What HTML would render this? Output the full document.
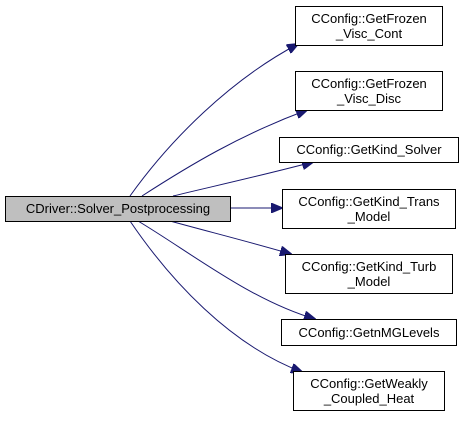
<!DOCTYPE html>
<html><head><style>body{margin:0;background:#fff}</style></head><body>
<svg width="464" height="417" xmlns="http://www.w3.org/2000/svg" font-family="'Liberation Sans',sans-serif" font-size="13">
<defs><marker id="a" markerWidth="12" markerHeight="10" refX="11" refY="5" orient="auto" markerUnits="userSpaceOnUse"><path d="M0,0 L12,5 L0,10 z" fill="#191970" stroke="#191970"/></marker></defs>
<g fill="none" stroke="#191970" stroke-width="1">
<path d="M130,196 C170,140 230,80 298,44" marker-end="url(#a)"/>
<path d="M142,196 C190,165 240,135 307,110" marker-end="url(#a)"/>
<path d="M173,196 C210,187 260,176 313,162" marker-end="url(#a)"/>
<path d="M231,208 L282,208" marker-end="url(#a)"/>
<path d="M170,221 C210,232 250,242 291,254" marker-end="url(#a)"/>
<path d="M138,221 C190,252 250,300 315,319" marker-end="url(#a)"/>
<path d="M130,221 C170,280 230,345 302,372" marker-end="url(#a)"/>
</g>
<g stroke="#000" stroke-width="1">
<rect x="5.5" y="196.5" width="225" height="25" fill="#bfbfbf"/>
<rect x="295.5" y="6.5" width="147" height="39" fill="#fff"/>
<rect x="295.5" y="71.5" width="147" height="39" fill="#fff"/>
<rect x="279.5" y="137.5" width="179" height="25" fill="#fff"/>
<rect x="282.5" y="189.5" width="173" height="39" fill="#fff"/>
<rect x="285.5" y="254.5" width="167" height="39" fill="#fff"/>
<rect x="281.5" y="319.5" width="175" height="26" fill="#fff"/>
<rect x="293.5" y="371.5" width="151" height="39" fill="#fff"/>
</g>
<g fill="#000" text-anchor="middle">
<text x="118" y="213">CDriver::Solver_Postprocessing</text>
<text x="369" y="23">CConfig::GetFrozen</text><text x="369" y="38">_Visc_Cont</text>
<text x="369" y="88">CConfig::GetFrozen</text><text x="369" y="103">_Visc_Disc</text>
<text x="369" y="154">CConfig::GetKind_Solver</text>
<text x="369" y="206">CConfig::GetKind_Trans</text><text x="369" y="221">_Model</text>
<text x="369" y="271">CConfig::GetKind_Turb</text><text x="369" y="286">_Model</text>
<text x="369" y="337">CConfig::GetnMGLevels</text>
<text x="369" y="388">CConfig::GetWeakly</text><text x="369" y="403">_Coupled_Heat</text>
</g>
</svg>
</body></html>
